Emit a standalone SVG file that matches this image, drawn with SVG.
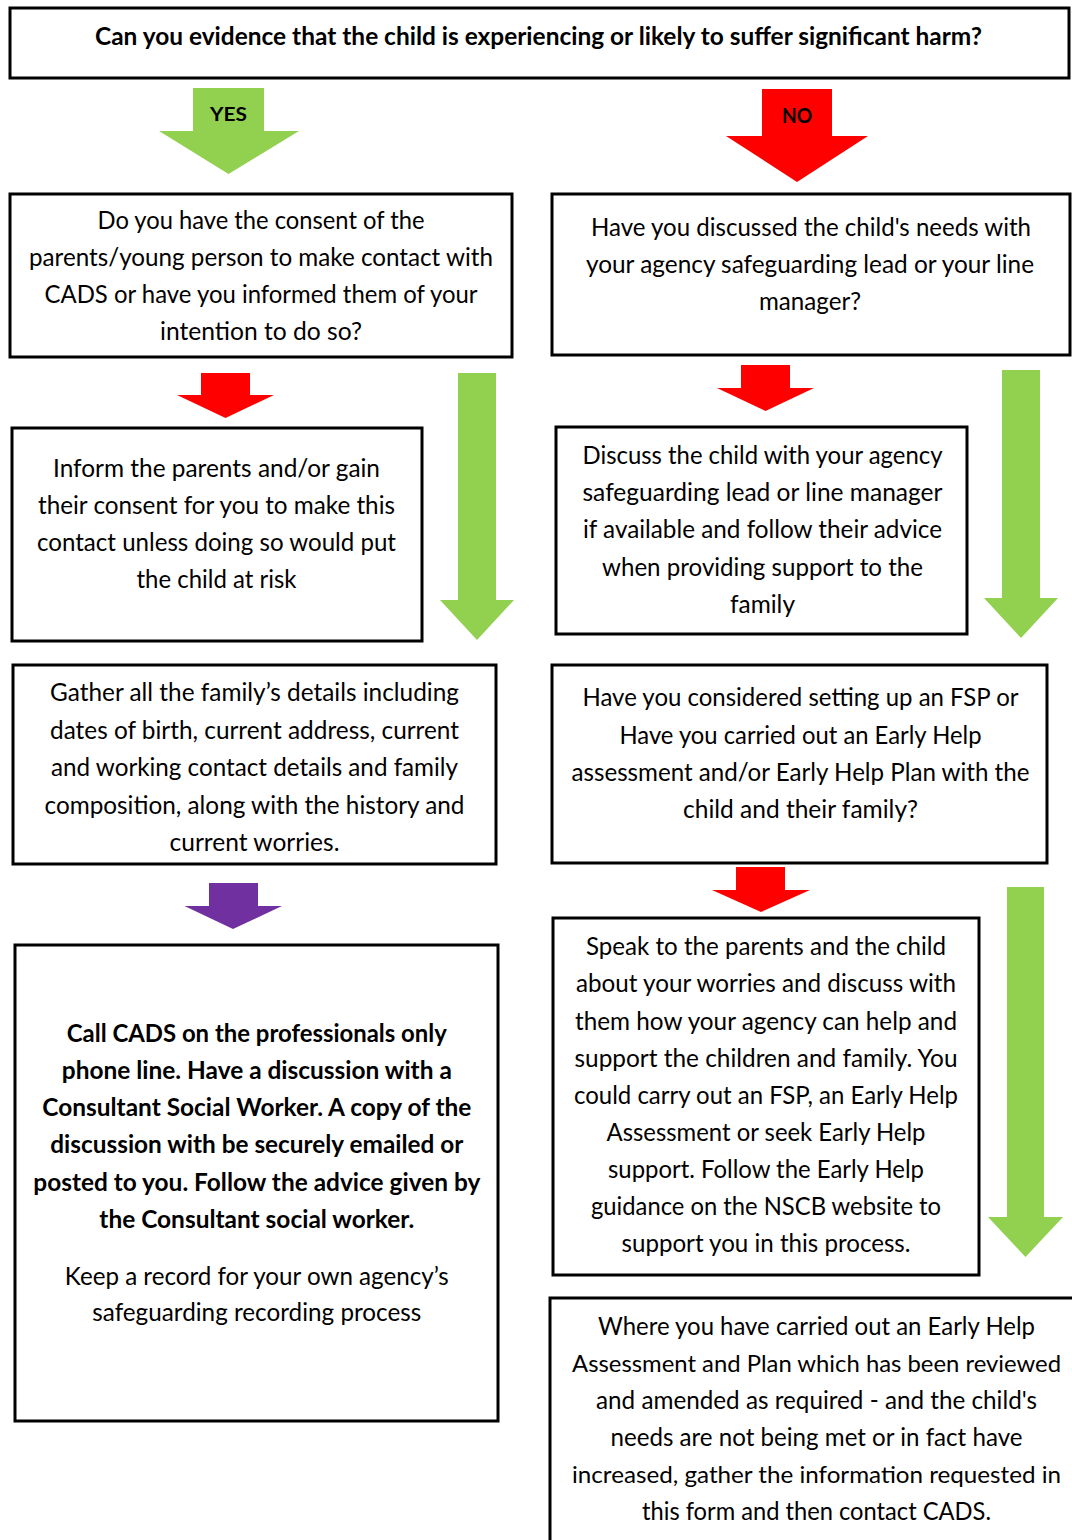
<svg xmlns="http://www.w3.org/2000/svg" width="1072" height="1540" viewBox="0 0 1072 1540">
  <style>
    .box { fill: #ffffff; stroke: #000000; stroke-width: 3; }
    .t { font-family: Lato, "Open Sans", "Liberation Sans", sans-serif; font-size: 25px; fill: #000000; text-anchor: middle; }
    .b { font-weight: bold; }
    .long { font-size: 23px; }
    .lbl { font-family: Lato, "Open Sans", "Liberation Sans", sans-serif; font-weight: bold; fill: #000000; text-anchor: middle; }
    .green { fill: #92D050; }
    .red { fill: #FF0000; }
    .purple { fill: #7030A0; }
  </style>
  <rect width="1072" height="1540" fill="#ffffff"/>

  <!-- block arrows -->
  <g id="connectors">
    <g id="arrow-yes">
      <polygon class="green" points="193,88 264,88 264,131 299,131 228.5,174 159,131 193,131"/>
      <text class="lbl" x="228.5" y="121" font-size="19" textLength="37" lengthAdjust="spacingAndGlyphs">YES</text>
    </g>
    <g id="arrow-no">
      <polygon class="red" points="762,89 832,89 832,136 868,136 797,182 726,136 762,136"/>
      <text class="lbl" x="797" y="123" font-size="20" textLength="30" lengthAdjust="spacingAndGlyphs">NO</text>
    </g>
    <polygon id="arrow-consent-no" class="red" points="201,373 250,373 250,395 274,395 225.5,418 177,395 201,395"/>
    <polygon id="arrow-consent-yes" class="green" points="458,373 496,373 496,600 514,600 477,640 440,600 458,600"/>
    <polygon id="arrow-discussed-no" class="red" points="741,365 790,365 790,388 814,388 765.5,411 717,388 741,388"/>
    <polygon id="arrow-discussed-yes" class="green" points="1002,370 1040,370 1040,598 1058,598 1021,638 984,598 1002,598"/>
    <polygon id="arrow-gather" class="purple" points="209,883 258,883 258,906 282,906 233,929 184.5,906 209,906"/>
    <polygon id="arrow-fsp-no" class="red" points="736,867 785,867 785,890 810,890 761,912 712,890 736,890"/>
    <polygon id="arrow-fsp-yes" class="green" points="1007,887 1044,887 1044,1217 1063,1217 1025.5,1257 988,1217 1007,1217"/>
  </g>

  <!-- question at the top -->
  <g id="node-harm">
    <rect class="box" x="10" y="8" width="1059" height="70"/>
    <text class="t b" x="538.5" y="45" textLength="887" lengthAdjust="spacingAndGlyphs">Can you evidence that the child is experiencing or likely to suffer significant harm?</text>
  </g>

  <!-- YES branch -->
  <g id="node-consent">
    <rect class="box" x="10" y="194" width="502" height="163"/>
    <text class="t" x="261" y="229" textLength="327" lengthAdjust="spacingAndGlyphs">Do you have the consent of the</text>
    <text class="t" x="261" y="266" textLength="464" lengthAdjust="spacingAndGlyphs">parents/young person to make contact with</text>
    <text class="t" x="261" y="303" textLength="433" lengthAdjust="spacingAndGlyphs">CADS or have you informed them of your</text>
    <text class="t" x="261" y="340" textLength="202" lengthAdjust="spacingAndGlyphs">intention to do so?</text>
  </g>

  <g id="node-inform">
    <rect class="box" x="12" y="428" width="410" height="213"/>
    <text class="t" x="216.5" y="477" textLength="327" lengthAdjust="spacingAndGlyphs">Inform the parents and/or gain</text>
    <text class="t" x="216.5" y="514" textLength="357" lengthAdjust="spacingAndGlyphs">their consent for you to make this</text>
    <text class="t" x="216.5" y="551" textLength="359" lengthAdjust="spacingAndGlyphs">contact unless doing so would put</text>
    <text class="t" x="216.5" y="588" textLength="160" lengthAdjust="spacingAndGlyphs">the child at risk</text>
  </g>

  <g id="node-gather">
    <rect class="box" x="13" y="665" width="483" height="199"/>
    <text class="t" x="254.5" y="701" textLength="409" lengthAdjust="spacingAndGlyphs">Gather all the family’s details including</text>
    <text class="t" x="254.5" y="739" textLength="409" lengthAdjust="spacingAndGlyphs">dates of birth, current address, current</text>
    <text class="t" x="254.5" y="776" textLength="407" lengthAdjust="spacingAndGlyphs">and working contact details and family</text>
    <text class="t" x="254.5" y="814" textLength="420" lengthAdjust="spacingAndGlyphs">composition, along with the history and</text>
    <text class="t" x="254.5" y="851" textLength="170" lengthAdjust="spacingAndGlyphs">current worries.</text>
  </g>

  <g id="node-call-cads">
    <rect class="box" x="15" y="945" width="483" height="476"/>
    <text class="t b" x="256.8" y="1042" textLength="380" lengthAdjust="spacingAndGlyphs">Call CADS on the professionals only</text>
    <text class="t b" x="256.8" y="1079" textLength="390" lengthAdjust="spacingAndGlyphs">phone line. Have a discussion with a</text>
    <text class="t b" x="256.8" y="1116" textLength="429" lengthAdjust="spacingAndGlyphs">Consultant Social Worker. A copy of the</text>
    <text class="t b" x="256.8" y="1153" textLength="413" lengthAdjust="spacingAndGlyphs">discussion with be securely emailed or</text>
    <text class="t b" x="256.8" y="1191" textLength="447" lengthAdjust="spacingAndGlyphs">posted to you. Follow the advice given by</text>
    <text class="t b" x="256.8" y="1228" textLength="315" lengthAdjust="spacingAndGlyphs">the Consultant social worker.</text>
    <text class="t" x="256.8" y="1285" textLength="384" lengthAdjust="spacingAndGlyphs">Keep a record for your own agency’s</text>
    <text class="t" x="256.8" y="1321" textLength="329" lengthAdjust="spacingAndGlyphs">safeguarding recording process</text>
  </g>

  <!-- NO branch -->
  <g id="node-discussed">
    <rect class="box" x="552" y="194" width="518" height="161"/>
    <text class="t" x="811" y="236" textLength="440" lengthAdjust="spacingAndGlyphs">Have you discussed the child's needs with</text>
    <text class="t" x="810" y="273" textLength="448" lengthAdjust="spacingAndGlyphs">your agency safeguarding lead or your line</text>
    <text class="t" x="810" y="310" textLength="102" lengthAdjust="spacingAndGlyphs">manager?</text>
  </g>

  <g id="node-discuss">
    <rect class="box" x="556" y="427" width="411" height="207"/>
    <text class="t" x="762.5" y="464" textLength="360" lengthAdjust="spacingAndGlyphs">Discuss the child with your agency</text>
    <text class="t" x="762.5" y="501" textLength="360" lengthAdjust="spacingAndGlyphs">safeguarding lead or line manager</text>
    <text class="t" x="762.5" y="538" textLength="359" lengthAdjust="spacingAndGlyphs">if available and follow their advice</text>
    <text class="t" x="762.5" y="576" textLength="321" lengthAdjust="spacingAndGlyphs">when providing support to the</text>
    <text class="t" x="762.5" y="613" textLength="65" lengthAdjust="spacingAndGlyphs">family</text>
  </g>

  <g id="node-fsp">
    <rect class="box" x="552" y="665" width="495" height="198"/>
    <text class="t" x="800.5" y="706" textLength="436" lengthAdjust="spacingAndGlyphs">Have you considered setting up an FSP or</text>
    <text class="t" x="800.5" y="744" textLength="362" lengthAdjust="spacingAndGlyphs">Have you carried out an Early Help</text>
    <text class="t" x="800.5" y="781" textLength="458" lengthAdjust="spacingAndGlyphs">assessment and/or Early Help Plan with the</text>
    <text class="t" x="800.5" y="818" textLength="235" lengthAdjust="spacingAndGlyphs">child and their family?</text>
  </g>

  <g id="node-speak">
    <rect class="box" x="553" y="918" width="426" height="357"/>
    <text class="t" x="766" y="955" textLength="360" lengthAdjust="spacingAndGlyphs">Speak to the parents and the child</text>
    <text class="t" x="766" y="992" textLength="380" lengthAdjust="spacingAndGlyphs">about your worries and discuss with</text>
    <text class="t" x="766" y="1030" textLength="382" lengthAdjust="spacingAndGlyphs">them how your agency can help and</text>
    <text class="t" x="766" y="1067" textLength="383" lengthAdjust="spacingAndGlyphs">support the children and family. You</text>
    <text class="t" x="766" y="1104" textLength="384" lengthAdjust="spacingAndGlyphs">could carry out an FSP, an Early Help</text>
    <text class="t" x="766" y="1141" textLength="319" lengthAdjust="spacingAndGlyphs">Assessment or seek Early Help</text>
    <text class="t" x="766" y="1178" textLength="316" lengthAdjust="spacingAndGlyphs">support. Follow the Early Help</text>
    <text class="t" x="766" y="1215" textLength="350" lengthAdjust="spacingAndGlyphs">guidance on the NSCB website to</text>
    <text class="t" x="766" y="1252" textLength="289" lengthAdjust="spacingAndGlyphs">support you in this process.</text>
  </g>

  <!-- this box runs past the right and bottom edges of the page -->
  <g id="node-contact-cads">
    <rect class="box" x="550" y="1298" width="540" height="260"/>
    <text class="t" x="816.5" y="1335" textLength="437" lengthAdjust="spacingAndGlyphs">Where you have carried out an Early Help</text>
    <text class="t long" x="816.5" y="1372" textLength="489" lengthAdjust="spacingAndGlyphs">Assessment and Plan which has been reviewed</text>
    <text class="t" x="816.5" y="1409" textLength="441" lengthAdjust="spacingAndGlyphs">and amended as required - and the child's</text>
    <text class="t" x="816.5" y="1446" textLength="412" lengthAdjust="spacingAndGlyphs">needs are not being met or in fact have</text>
    <text class="t long" x="816.5" y="1483" textLength="489" lengthAdjust="spacingAndGlyphs">increased, gather the information requested in</text>
    <text class="t" x="816.5" y="1520" textLength="349" lengthAdjust="spacingAndGlyphs">this form and then contact CADS.</text>
  </g>
</svg>
